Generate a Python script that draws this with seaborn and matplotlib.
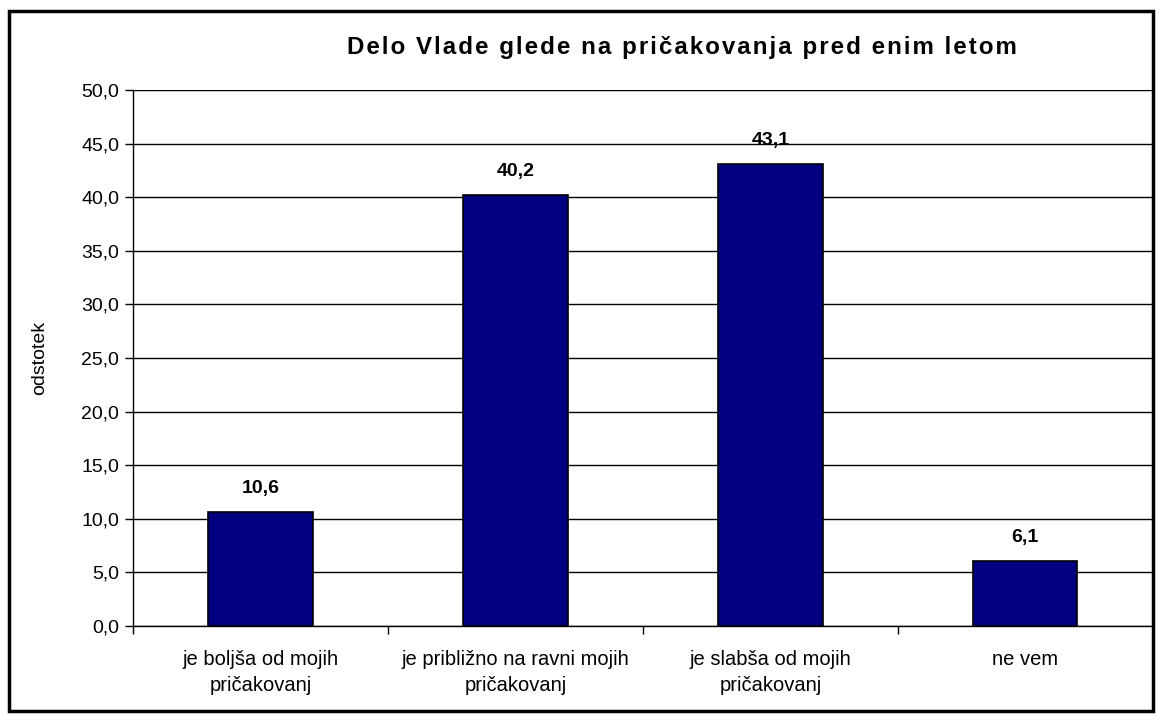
import pandas as pd
import matplotlib.pyplot as plt
import seaborn as sns
from matplotlib.patches import Rectangle

# chart data
categories = ["je boljša od mojih\npričakovanj", "je približno na ravni mojih\npričakovanj",
              "je slabša od mojih\npričakovanj", "ne vem"]
values = [10.6, 40.2, 43.1, 6.1]
yticks = [0, 5, 10, 15, 20, 25, 30, 35, 40, 45, 50]
title = "Delo Vlade glede na pričakovanja pred enim letom"

df = pd.DataFrame({"kategorija": categories, "odstotek": values})

sns.set_style("white")
plt.rcParams['font.family'] = ['Liberation Sans', 'DejaVu Sans']
plt.rcParams['text.color'] = 'black'
plt.rcParams['axes.labelcolor'] = 'black'
plt.rcParams['xtick.color'] = 'black'
plt.rcParams['ytick.color'] = 'black'

fig = plt.figure(figsize=(11.6, 7.2), dpi=100)
ax = fig.add_axes([0.1147, 0.1306, 0.879, 0.7444])

sns.barplot(data=df, x="kategorija", y="odstotek", color="#000080", saturation=1,
            width=0.41, edgecolor="black", linewidth=1.2, ax=ax)

ax.set_ylim(0, 50)
ax.set_xlim(-0.5, 3.5)
ax.set_yticks(yticks)
ax.set_yticklabels([f"{t:.1f}".replace(".", ",") for t in yticks], fontsize=14)
ax.yaxis.grid(True, color="black", linewidth=1)
ax.set_axisbelow(True)
ax.tick_params(axis="y", length=6, width=1, color="black", left=True, pad=4)
ax.tick_params(axis="x", length=0, pad=17)
ax.set_xticks(range(len(categories)))
ax.set_xticklabels(categories, fontsize=14.5, linespacing=1.5)
ax.set_xticks([-0.5, 0.5, 1.5, 2.5, 3.5], minor=True)
ax.tick_params(axis="x", which="minor", length=6, width=1, color="black", bottom=True)

for side in ["top", "right"]:
    ax.spines[side].set_visible(False)
ax.spines["left"].set_color("black")
ax.spines["bottom"].set_color("black")
ax.spines["left"].set_linewidth(1)
ax.spines["bottom"].set_linewidth(1)

ax.set_xlabel("")
ax.set_ylabel("odstotek", fontsize=14, labelpad=24)

# value labels
for i, v in enumerate(values):
    ax.text(i, v + 1.4, f"{v:.1f}".replace(".", ","), ha="center", va="bottom",
            fontsize=14, fontweight="bold")

# title with loose letter spacing like the original
spaced = "\u200a".join(title)
fig.text(0.588, 0.934, spaced, ha="center", va="center", fontsize=17.4, fontweight="bold")

# outer border
fig.patches.append(Rectangle((0.008, 0.012), 0.986, 0.973, transform=fig.transFigure,
                             fill=False, edgecolor="black", linewidth=2.5))

fig.savefig("out.png", dpi=100)
